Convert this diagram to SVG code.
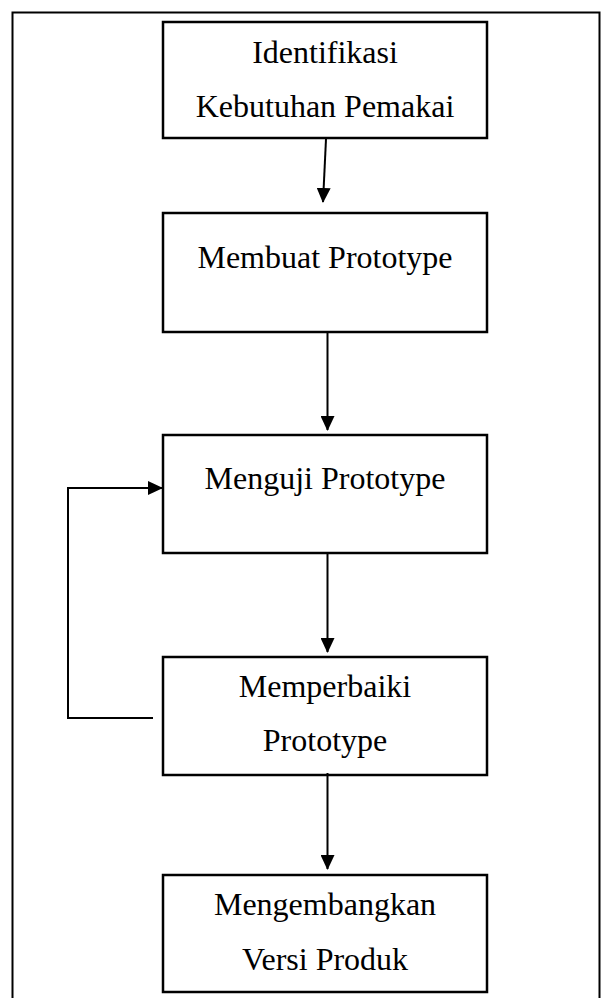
<svg xmlns="http://www.w3.org/2000/svg" width="601" height="998" viewBox="0 0 601 998">
<style>
.box{fill:#fff;stroke:#000;stroke-width:2.5}
.lbl{font-family:"Liberation Serif","Times New Roman",serif;font-size:32px;fill:#000;text-anchor:middle}
.con{fill:none;stroke:#000;stroke-width:2}
.arr{marker-end:url(#ah)}
</style>
<defs>
<marker id="ah" viewBox="0 0 15 14" refX="14" refY="7" markerWidth="15" markerHeight="14" markerUnits="userSpaceOnUse" orient="auto">
<path d="M0,0 L15,7 L0,14 z" fill="#000"/>
</marker>
</defs>
<rect x="12.5" y="12.5" width="587" height="1000" fill="none" stroke="#000" stroke-width="2"/>
<g id="n1"><rect class="box" x="163" y="22" width="324" height="116"/><text class="lbl" x="325" y="63">Identifikasi</text><text class="lbl" x="325" y="117">Kebutuhan Pemakai</text></g>
<g id="n2"><rect class="box" x="163" y="213" width="324" height="119"/><text class="lbl" x="325" y="268">Membuat Prototype</text></g>
<g id="n3"><rect class="box" x="163" y="435" width="324" height="118"/><text class="lbl" x="325" y="489">Menguji Prototype</text></g>
<g id="n4"><rect class="box" x="163" y="657" width="324" height="118"/><text class="lbl" x="325" y="697">Memperbaiki</text><text class="lbl" x="325" y="751">Prototype</text></g>
<g id="n5"><rect class="box" x="163" y="875" width="324" height="117"/><text class="lbl" x="325" y="915">Mengembangkan</text><text class="lbl" x="325" y="970">Versi Produk</text></g>
<g id="connectors">
<path class="con arr" d="M326,139 L323,202"/>
<path class="con arr" d="M327.5,333 L327.5,430"/>
<path class="con arr" d="M327.5,554 L327.5,652"/>
<path class="con arr" d="M327.5,773 L327.5,869"/>
<path class="con arr" d="M153,718 L68,718 L68,488 L162,488"/>
</g>
</svg>
